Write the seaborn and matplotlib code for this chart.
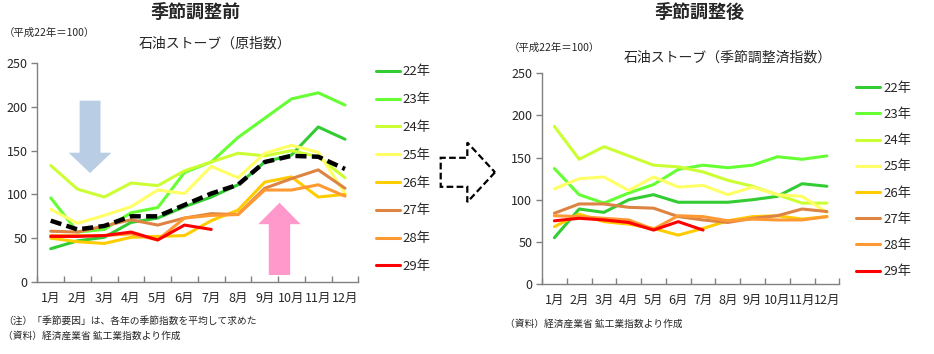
import numpy as np
import pandas as pd
import seaborn as sns
import matplotlib.pyplot as plt
from matplotlib.patches import FancyArrow

# months and year labels
months = ['1月', '2月', '3月', '4月', '5月', '6月', '7月', '8月', '9月', '10月', '11月', '12月']
years = ['22年', '23年', '24年', '25年', '26年', '27年', '28年', '29年']

# raw index (原指数)
raw_22 = [38, 47, 51, 68, 73, 86, 97, 111, 137, 145, 177, 163]
raw_23 = [96, 57, 60, 79, 85, 125, 137, 165, 187, 209, 216, 202]
raw_24 = [133, 106, 97, 113, 110, 127, 137, 147, 144, 150, 143, 119]
raw_25 = [83, 67, 76, 86, 105, 101, 132, 119, 147, 156, 148, 101]
raw_26 = [50, 46, 44, 51, 52, 53, 70, 82, 114, 120, 97, 100]
raw_27 = [58, 57, 64, 71, 65, 73, 78, 77, 107, 118, 128, 107]
raw_28 = [53, 53, 53, 55, 48, 73, 76, 77, 105, 105, 111, 98]
raw_29 = [52, 52, 53, 57, 48, 65, 60]

# seasonal factor (季節要因, average of years)
season = [70, 60, 64, 75, 75, 88, 101, 111, 137, 144, 143, 129]

# seasonally adjusted index (季節調整済指数)
adj_22 = [55, 89, 85, 100, 106, 97, 97, 97, 100, 104, 119, 116]
adj_23 = [137, 106, 96, 108, 118, 136, 141, 138, 141, 151, 148, 152]
adj_24 = [187, 148, 163, 152, 141, 139, 133, 123, 116, 106, 96, 96]
adj_25 = [113, 125, 127, 111, 127, 115, 117, 106, 115, 106, 104, 85]
adj_26 = [68, 83, 74, 71, 66, 58, 66, 75, 80, 81, 77, 80]
adj_27 = [84, 95, 95, 91, 90, 80, 76, 73, 78, 81, 89, 86]
adj_28 = [81, 80, 78, 76, 65, 81, 80, 75, 77, 76, 76, 80]
adj_29 = [75, 78, 76, 73, 64, 74, 64]

colors = ['#33cc33', '#66ff33', '#ccff33', '#ffff66', '#ffcc00', '#dd8442', '#ff9933', '#ff0000']
palette = dict(zip(years, colors))


# build a long table from the lists
def makeTable(series):
    rows = []
    for yr, vals in zip(years, series):
        for m, v in zip(months, vals):
            rows.append({'月': m, '年': yr, '指数': v})
    return pd.DataFrame(rows)


raw_df = makeTable([raw_22, raw_23, raw_24, raw_25, raw_26, raw_27, raw_28, raw_29])
adj_df = makeTable([adj_22, adj_23, adj_24, adj_25, adj_26, adj_27, adj_28, adj_29])

sns.set_style('white')
plt.rcParams['font.family'] = ['Noto Sans CJK JP', 'DejaVu Sans']

fig = plt.figure(figsize=(9.34, 3.54), dpi=100)
ax1 = fig.add_axes([0.040, 0.2034, 0.3437, 0.6186])
ax2 = fig.add_axes([0.5803, 0.1977, 0.3183, 0.5952])


# common axis styling
def styleAxis(ax):
    ax.set_xlim(-0.5, 11.5)
    ax.set_ylim(0, 250)
    ax.set_yticks(range(0, 251, 50))
    ax.set_xticks(range(12))
    ax.set_xticklabels(months)
    ax.set_xticks(np.arange(-0.5, 12, 1), minor=True)
    ax.tick_params(axis='x', which='major', length=0, pad=7, labelsize=9)
    ax.tick_params(axis='x', which='minor', direction='in', length=4,
                   width=1, color='#808080', bottom=True)
    ax.tick_params(axis='y', direction='out', length=4, width=1,
                   color='#808080', left=True, pad=3, labelsize=9)
    ax.set_xlabel('')
    ax.set_ylabel('')
    for side in ['top', 'right']:
        ax.spines[side].set_visible(False)
    for side in ['left', 'bottom']:
        ax.spines[side].set_color('#808080')
        ax.spines[side].set_linewidth(1)


# left: raw index with seasonal factor
sns.lineplot(data=raw_df, x='月', y='指数', hue='年', hue_order=years,
             palette=palette, lw=2.2, sort=False, ax=ax1)
sns.lineplot(x=months, y=season, color='black', lw=3.2, sort=False,
             linestyle=(0, (2.5, 1.2)), ax=ax1, legend=False)
styleAxis(ax1)
sns.move_legend(ax1, 'upper left', bbox_to_anchor=(0.4025, 0.815),
                bbox_transform=fig.transFigure, frameon=False, title=None,
                fontsize=9.5, handlelength=1.85, handletextpad=0.2,
                labelspacing=1.12, borderpad=0, borderaxespad=0)

ax1.add_patch(FancyArrow(1.47, 207, 0, -82.6, width=0.78, head_width=1.6,
                         head_length=23.2, length_includes_head=True,
                         color='#b9cde5', lw=0, zorder=0.5))
ax1.add_patch(FancyArrow(8.55, 8, 0, 82.5, width=0.8, head_width=1.585,
                         head_length=24.5, length_includes_head=True,
                         color='#ff99cc', lw=0, zorder=0.5))

# right: seasonally adjusted index
sns.lineplot(data=adj_df, x='月', y='指数', hue='年', hue_order=years,
             palette=palette, lw=2.2, sort=False, ax=ax2)
styleAxis(ax2)
sns.move_legend(ax2, 'upper left', bbox_to_anchor=(0.9165, 0.769),
                bbox_transform=fig.transFigure, frameon=False, title=None,
                fontsize=9.5, handlelength=1.85, handletextpad=0.2,
                labelspacing=1.0, borderpad=0, borderaxespad=0)

# dashed block arrow between the charts
fig.patches.append(FancyArrow(440.7 / 934, 1 - 172.3 / 354, (495 - 440.7) / 934, 0,
                              width=29 / 354, head_width=59.6 / 354,
                              head_length=(495 - 467.3) / 934,
                              length_includes_head=True, fill=False,
                              ls=(0, (3, 1.5)), lw=1.6, ec='black',
                              transform=fig.transFigure, figure=fig))


def ftext(x, y, s, **kw):
    fig.text(x / 934, 1 - y / 354, s, va='center', **kw)


ftext(196, 12, '季節調整前', ha='center', fontsize=13, fontweight='bold')
ftext(700, 12, '季節調整後', ha='center', fontsize=13, fontweight='bold')
ftext(4, 33, '（平成22年＝100）', ha='left', fontsize=7.5)
ftext(509, 48, '（平成22年＝100）', ha='left', fontsize=7.5)
ftext(215, 44, '石油ストーブ（原指数）', ha='center', fontsize=10)
ftext(728, 58, '石油ストーブ（季節調整済指数）', ha='center', fontsize=10)
ftext(3, 321, '（注）「季節要因」は、各年の季節指数を平均して求めた', ha='left', fontsize=7)
ftext(3, 336, '（資料）経済産業省 鉱工業指数より作成', ha='left', fontsize=7)
ftext(505, 324, '（資料）経済産業省 鉱工業指数より作成', ha='left', fontsize=7)

plt.savefig('out.png', dpi=100)
